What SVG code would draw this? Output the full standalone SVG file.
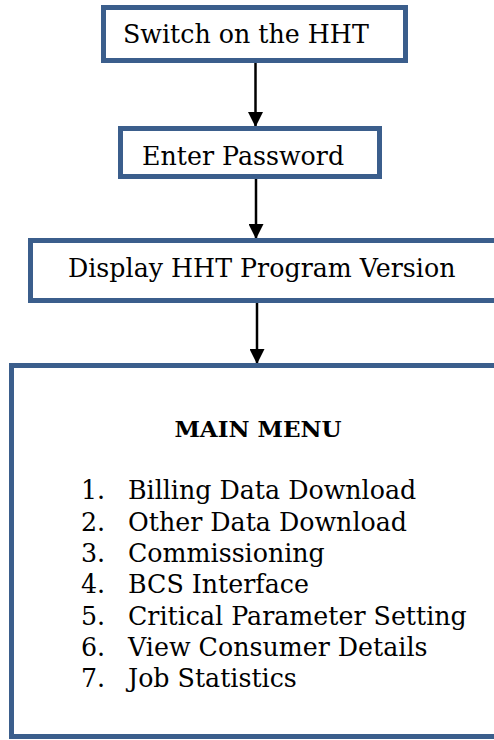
<svg xmlns="http://www.w3.org/2000/svg" width="494" height="740" viewBox="0 0 494 740">
<defs>
<style>
.box{fill:#fff;stroke:#3B5E8C;stroke-width:5}
.t{font-family:"DejaVu Serif","Liberation Serif",serif;font-size:25.3px;fill:#000}
.b{font-weight:bold;font-size:23px}
.conn{stroke:#000;stroke-width:2.5;fill:none}
</style>
<marker id="ah" markerWidth="6" markerHeight="6" viewBox="0 0 6 6" refX="6" refY="3" orient="auto" markerUnits="strokeWidth">
<path d="M0,0 L6,3 L0,6 Z" fill="#000"/>
</marker>
</defs>
<rect width="494" height="740" fill="#fff"/>
<g id="connectors">
<line class="conn" x1="255.5" y1="63" x2="255.5" y2="127" marker-end="url(#ah)"/>
<line class="conn" x1="256" y1="179" x2="256" y2="239" marker-end="url(#ah)"/>
<line class="conn" x1="257" y1="303" x2="257" y2="364" marker-end="url(#ah)"/>
</g>
<g id="n1">
<rect class="box" x="103.5" y="7.5" width="302" height="53"/>
<text class="t" x="123" y="43">Switch on the HHT</text>
</g>
<g id="n2">
<rect class="box" x="120.5" y="128.5" width="259" height="48"/>
<text class="t" x="142" y="165">Enter Password</text>
</g>
<g id="n3">
<rect class="box" x="30.5" y="240.5" width="470" height="60"/>
<text class="t" x="68" y="277">Display HHT Program Version</text>
</g>
<g id="n4">
<rect class="box" x="11.5" y="365.5" width="490" height="371"/>
<text class="t b" x="258" y="437" text-anchor="middle">MAIN MENU</text>
<text class="t" x="81" y="499">1.</text><text class="t" x="128" y="499">Billing Data Download</text>
<text class="t" x="81" y="530.5">2.</text><text class="t" x="128" y="530.5">Other Data Download</text>
<text class="t" x="81" y="562">3.</text><text class="t" x="128" y="562">Commissioning</text>
<text class="t" x="81" y="593">4.</text><text class="t" x="128" y="593">BCS Interface</text>
<text class="t" x="81" y="624.5">5.</text><text class="t" x="128" y="624.5">Critical Parameter Setting</text>
<text class="t" x="81" y="656">6.</text><text class="t" x="128" y="656">View Consumer Details</text>
<text class="t" x="81" y="687">7.</text><text class="t" x="128" y="687">Job Statistics</text>
</g>
</svg>
